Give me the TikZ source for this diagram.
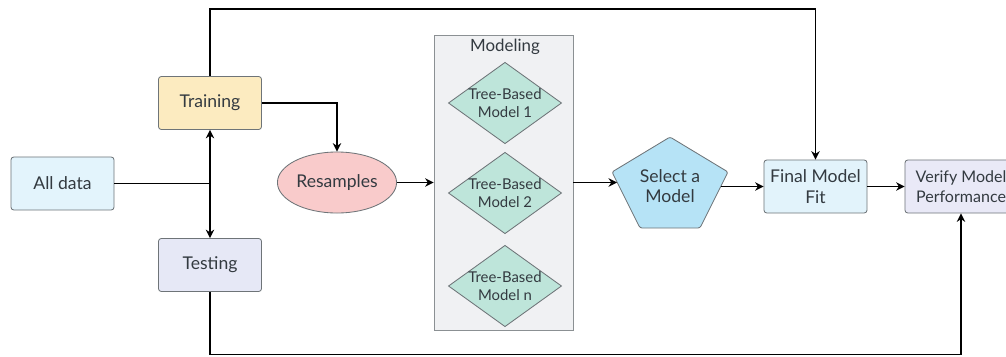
\documentclass[tikz,border=0pt]{standalone}
\usepackage{fontspec}
\setmainfont{Lato}
\usetikzlibrary{shapes.geometric,arrows.meta}
\definecolor{boxline}{HTML}{6E7478}
\definecolor{textgray}{HTML}{333A40}
\definecolor{allfill}{HTML}{E3F4FC}
\definecolor{trainfill}{HTML}{FCEBC0}
\definecolor{testfill}{HTML}{E6E8F6}
\definecolor{resfill}{HTML}{F9CBCB}
\definecolor{modfill}{HTML}{F0F1F3}
\definecolor{treefill}{HTML}{BEE5DA}
\definecolor{selfill}{HTML}{B6E3F6}
\definecolor{finfill}{HTML}{E2F3FB}
\definecolor{verfill}{HTML}{E9E9F7}
\begin{document}
\begin{tikzpicture}[x=0.025cm,y=-0.025cm,>={Stealth[length=6pt,width=6pt]},
    box/.style={draw=boxline,line width=0.6pt,rounded corners=2pt,minimum width=2.575cm,minimum height=1.325cm,inner sep=1pt,align=center,text=textgray,font=\fontsize{12.5}{14.5}\selectfont},
    tree/.style={diamond,draw=boxline,line width=0.6pt,fill=treefill,aspect=1.39,minimum width=2.775cm,minimum height=2cm,inner sep=0pt,align=center,text=textgray,font=\fontsize{10.6}{12.6}\selectfont},
    link/.style={line width=1.4pt}]
    \useasboundingbox (0,0) rectangle (1006,356);

    \node[box,fill=allfill] (all) at (62.5,183.5) {All data}; \node[box,fill=trainfill] (train) at (210,103) {Training}; \node[box,fill=testfill] (test) at (210,265) {Testing};
    \node[ellipse,draw=boxline,line width=0.6pt,fill=resfill,minimum width=2.75cm,minimum height=1.525cm,inner sep=1pt,text=textgray,font=\fontsize{12.5}{14.5}\selectfont] (res) at (337,182.5) {Resamples};
    \node[draw=boxline!80,line width=0.6pt,fill=modfill,minimum width=3.475cm,minimum height=7.375cm] (mod) at (503.5,182.5) {}; \node[text=textgray,font=\fontsize{12}{14}\selectfont] (modlab) at (505,47) {Modeling};
    \node[tree] (tree1) at (505,103) {Tree-Based\\Model 1}; \node[tree] (tree2) at (505,193) {Tree-Based\\Model 2}; \node[tree] (treen) at (505,286) {Tree-Based\\Model n};

    \coordinate (p1) at (670,137); \coordinate (p2) at (728,172); \coordinate (p3) at (700,228); \coordinate (p4) at (640,228); \coordinate (p5) at (612,172);
    \draw[draw=boxline,line width=0.6pt,fill=selfill,rounded corners=1.5pt] (p1) -- (p2) -- (p3) -- (p4) -- (p5) -- cycle;
    \node[align=center,text=textgray,font=\fontsize{12.5}{14.5}\selectfont] (sel) at (670,186) {Select a\\Model};
    \coordinate (selin) at (617,182.5); \coordinate (selout) at (721,186.5);
    \node[box,fill=finfill] (final) at (815.5,186.5) {Final Model\\Fit}; \node[box,fill=verfill,minimum width=2.8cm,font=\fontsize{11.4}{14.5}\selectfont] (verify) at (961,186.5) {Verify Model\\Performance};

    \coordinate (split) at (210,183.5); \coordinate (top) at (500,9); \coordinate (bottom) at (500,354.5);
    \draw[link] (all) -- (split); \draw[link,->] (split) -- (train); \draw[link,->] (split) -- (test);
    \draw[link,->] (train.east) -| (res.north); \draw[link,->] (res) -- (mod);
    \draw[link,->] (mod.east) -- (selin); \draw[link,->] (selout) -- (final.west); \draw[link,->] (final) -- (verify);
    \draw[link,->] (train.north) |- (top) -| (final.north);
    \draw[link,->] (test.south) |- (bottom) -| (verify.south);
\end{tikzpicture}
\end{document}
